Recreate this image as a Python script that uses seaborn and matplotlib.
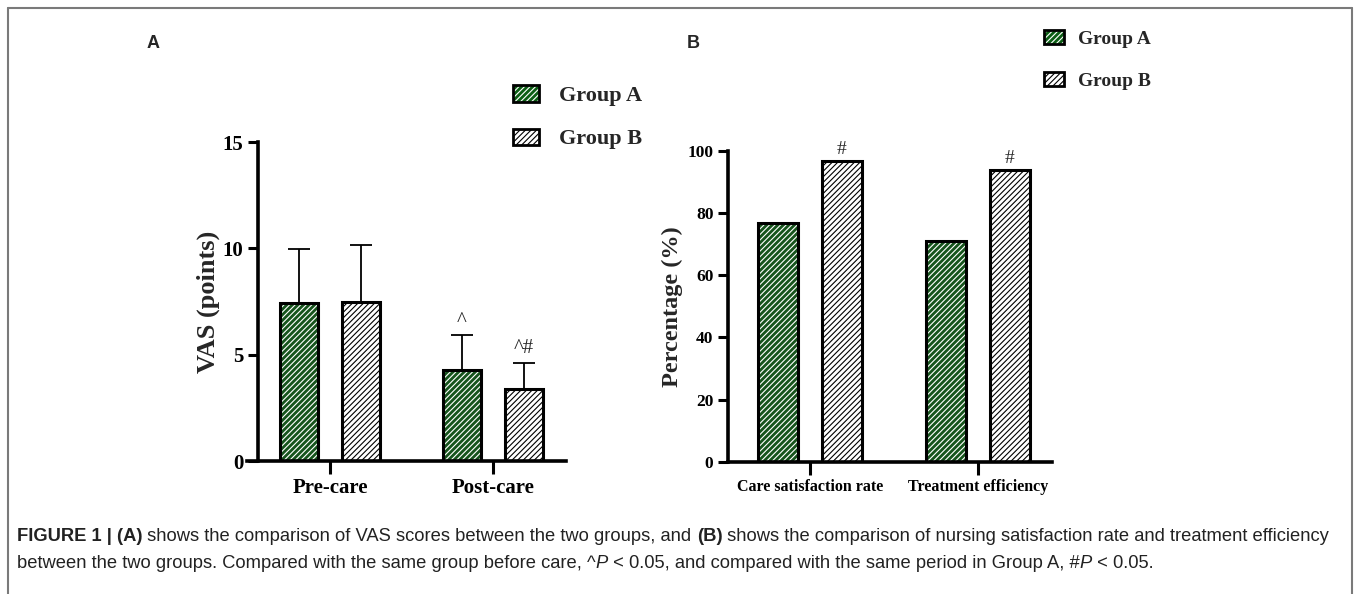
import matplotlib
matplotlib.use("Agg")
import matplotlib.pyplot as plt
from matplotlib.patches import Rectangle, Patch
from matplotlib.lines import Line2D
import seaborn as sns
import pandas as pd

# ---- data -------------------------------------------------------------
groups = ["Group A", "Group B"]

vas_periods = ["Pre-care", "Post-care"]
vas_group_a = [7.45, 4.28]
vas_group_b = [7.5, 3.38]
vas_sd_a = [2.5, 1.65]
vas_sd_b = [2.65, 1.25]
vas_marks_a = ["", "^"]
vas_marks_b = ["", "^#"]

pct_items = ["Care satisfaction rate", "Treatment efficiency"]
pct_group_a = [76.7, 70.9]
pct_group_b = [96.7, 93.9]
pct_marks_b = ["#", "#"]

green = "#0c5e14"
serif = "Liberation Serif"

sns.set_style("white")
plt.rcParams["font.family"] = [serif, "DejaVu Serif"]
plt.rcParams["hatch.linewidth"] = 0.8

fig = plt.figure(figsize=(13.6, 5.94), dpi=100)
W, H = 1360, 594

df_a = pd.DataFrame({
    "period": vas_periods * 2,
    "group": ["Group A"] * 2 + ["Group B"] * 2,
    "value": vas_group_a + vas_group_b,
})
df_b = pd.DataFrame({
    "item": pct_items * 2,
    "group": ["Group A"] * 2 + ["Group B"] * 2,
    "value": pct_group_a + pct_group_b,
})

palette = {"Group A": green, "Group B": "white"}
hatch_cols = {"Group A": "white", "Group B": "black"}
HATCH = "//////"


def style_bars(ax, n_cat):
    bars = list(ax.patches)
    info = []
    for i, p in enumerate(bars):
        g = groups[i // n_cat]
        p.set_edgecolor(hatch_cols[g])
        p.set_linewidth(0)
        p.set_hatch(HATCH)
        ax.add_patch(Rectangle(p.get_xy(), p.get_width(), p.get_height(),
                               fill=False, edgecolor="black", lw=2.2, zorder=3))
        info.append((p.get_x() + p.get_width() / 2, p.get_height()))
    return info


def style_axes(ax, ytick_size):
    for s in ["top", "right"]:
        ax.spines[s].set_visible(False)
    for s in ["left", "bottom"]:
        ax.spines[s].set_linewidth(2.6)
        ax.spines[s].set_color("black")
    ax.tick_params(axis="both", direction="out", length=7, width=2.2,
                   colors="black", left=True, bottom=True)
    ax.tick_params(axis="x", length=9)
    for t in ax.get_yticklabels():
        t.set_fontweight("bold")
        t.set_fontsize(ytick_size)


# ---- panel A ------------------------------------------------------------
ax1 = fig.add_axes([0.1897, 0.2239, 0.2265, 0.537])
sns.barplot(data=df_a, x="period", y="value", hue="group", hue_order=groups,
            palette=palette, width=0.76, gap=0.39, errorbar=None,
            legend=False, ax=ax1, zorder=2)
info = style_bars(ax1, 2)
sds = vas_sd_a + vas_sd_b
marks = vas_marks_a + vas_marks_b
for (x, h), sd, m in zip(info, sds, marks):
    ax1.errorbar(x, h, yerr=[[0], [sd]], fmt="none", ecolor="black",
                 elinewidth=1.3, capsize=8, capthick=1.3, zorder=1)
    if m:
        ax1.text(x, h + sd + 0.2, m, ha="center", va="bottom",
                 fontsize=15, fontfamily=serif)
ax1.set_ylim(0, 15)
ax1.set_yticks([0, 5, 10, 15])
ax1.set_xlim(-0.442, 1.448)
ax1.spines["bottom"].set_bounds(-0.51, 1.448)
ax1.set_xlabel("")
ax1.set_ylabel("VAS (points)", fontsize=19, fontweight="bold", labelpad=2)
ax1.set_xticks(range(len(vas_periods)))
ax1.set_xticklabels(vas_periods, fontsize=15, fontweight="bold")
style_axes(ax1, 15)

# ---- panel B ------------------------------------------------------------
ax2 = fig.add_axes([0.5353, 0.2227, 0.238, 0.5236])
sns.barplot(data=df_b, x="item", y="value", hue="group", hue_order=groups,
            palette=palette, width=0.76, gap=0.37, errorbar=None,
            legend=False, ax=ax2, zorder=2)
info = style_bars(ax2, 2)
for (x, h), m in zip(info[2:], pct_marks_b):
    ax2.text(x, h + 1.0, m, ha="center", va="bottom", fontsize=14,
             fontfamily=serif)
ax2.set_ylim(0, 100)
ax2.set_yticks(range(0, 101, 20))
ax2.set_xlim(-0.489, 1.44)
ax2.set_xlabel("")
ax2.set_ylabel("Percentage (%)", fontsize=17.5, fontweight="bold", labelpad=3)
ax2.set_xticks(range(len(pct_items)))
ax2.set_xticklabels(pct_items, fontsize=11.5, fontweight="bold")
style_axes(ax2, 12.5)

# ---- legends ------------------------------------------------------------
handles = [
    (Patch(facecolor=green, edgecolor="white", hatch=HATCH, lw=0),
     Patch(fill=False, edgecolor="black", lw=2)),
    (Patch(facecolor="white", edgecolor="black", hatch=HATCH, lw=0),
     Patch(fill=False, edgecolor="black", lw=2)),
]
fig.legend(handles, groups, loc="upper left", bbox_to_anchor=(0.364, 0.886),
           frameon=False, handlelength=1.2, handleheight=0.75,
           handletextpad=0.9, labelspacing=1.0, borderpad=0.3,
           prop={"family": serif, "weight": "bold", "size": 16})
fig.legend(handles, groups, loc="upper left", bbox_to_anchor=(0.756, 0.976),
           frameon=False, handlelength=1.05, handleheight=0.75,
           handletextpad=0.7, labelspacing=1.25, borderpad=0.3,
           prop={"family": serif, "weight": "bold", "size": 14})

# ---- panel letters ------------------------------------------------------
fig.text(147 / W, 1 - 43 / H, "A", fontsize=13, fontweight="bold",
         fontfamily="Liberation Sans", va="center")
fig.text(687 / W, 1 - 43 / H, "B", fontsize=13, fontweight="bold",
         fontfamily="Liberation Sans", va="center")

# ---- frame --------------------------------------------------------------
for xs, ys in [([8, 8], [594, 8]), ([8, 1352], [8, 8]), ([1352, 1352], [8, 594])]:
    fig.add_artist(Line2D([x / W for x in xs], [1 - y / H for y in ys],
                          color="#7a7a7a", lw=1.5))

# ---- caption ------------------------------------------------------------
caption_lines = [
    [("FIGURE 1 | (A)", "bold", "normal"),
     (" shows the comparison of VAS scores between the two groups, and ", "normal", "normal"),
     ("(B)", "bold", "normal"),
     (" shows the comparison of nursing satisfaction rate and treatment efficiency", "normal", "normal")],
    [("between the two groups. Compared with the same group before care, ^", "normal", "normal"),
     ("P", "normal", "italic"),
     (" < 0.05, and compared with the same period in Group A, #", "normal", "normal"),
     ("P", "normal", "italic"),
     (" < 0.05.", "normal", "normal")],
]
fig.canvas.draw()
renderer = fig.canvas.get_renderer()
for row, y_px in zip(caption_lines, [541, 568]):
    x_px = 17
    for txt, weight, style in row:
        t = fig.text(x_px / W, 1 - y_px / H, txt, fontsize=13.2,
                     fontweight=weight, fontstyle=style,
                     fontfamily="Liberation Sans", va="baseline",
                     color="#222222")
        bb = t.get_window_extent(renderer)
        x_px += bb.width

fig.savefig("out.png", dpi=100)
